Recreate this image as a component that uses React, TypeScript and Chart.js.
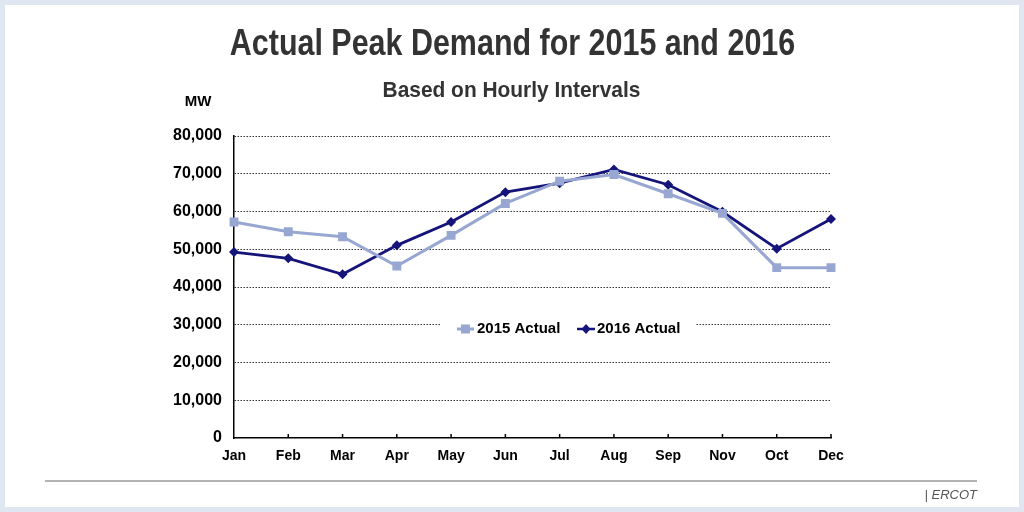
import React, { useEffect, useRef } from "react";
import { Chart, registerables } from "chart.js";

Chart.register(...registerables);

const months = ["Jan", "Feb", "Mar", "Apr", "May", "Jun", "Jul", "Aug", "Sep", "Nov", "Oct", "Dec"];
const actual2015 = [57200, 54650, 53330, 45560, 53680, 62140, 68040, 69810, 64710, 59500, 45130, 45130];
const actual2016 = [49260, 47590, 43360, 51030, 57200, 65130, 67510, 71140, 67090, 59940, 50160, 57990];
const yTicks = [0, 10000, 20000, 30000, 40000, 50000, 60000, 70000, 80000];
const seriesNames = ["2015 Actual", "2016 Actual"];

const titleText = "Actual Peak Demand for 2015 and 2016";
const subtitleText = "Based on Hourly Intervals";
const unitText = "MW";
const footerText = "| ERCOT";

const C2015 = "#97a7d1";
const C2016 = "#14147a";
const SANS = '"Liberation Sans", Arial, sans-serif';

const decorPlugin = {
  id: "decor",
  beforeDraw(chart: any) {
    const { ctx, width, height } = chart;
    ctx.save();
    ctx.fillStyle = "#dfe6ef";
    ctx.fillRect(0, 0, width, height);
    ctx.fillStyle = "#ffffff";
    ctx.fillRect(5, 5, width - 10, height - 10);
    ctx.restore();
  },
  afterDraw(chart: any) {
    const { ctx } = chart;
    const xs = chart.scales.x;
    const ys = chart.scales.y;
    ctx.save();
    ctx.fillStyle = "#333333";
    ctx.textAlign = "center";
    ctx.textBaseline = "alphabetic";
    ctx.save();
    ctx.translate(512.5, 55);
    ctx.scale(0.846, 1);
    ctx.font = `bold 36px ${SANS}`;
    ctx.fillText(titleText, 0, 0);
    ctx.restore();
    ctx.save();
    ctx.translate(511.5, 97);
    ctx.scale(0.95, 1);
    ctx.font = `bold 22px ${SANS}`;
    ctx.fillText(subtitleText, 0, 0);
    ctx.restore();
    ctx.fillStyle = "#000000";
    ctx.font = `bold 15px ${SANS}`;
    ctx.fillText(unitText, 198, 106);
    // inward ticks on x axis
    ctx.strokeStyle = "#000";
    ctx.lineWidth = 1.5;
    for (let i = 1; i < months.length; i++) {
      const px = xs.getPixelForValue(i);
      ctx.beginPath();
      ctx.moveTo(px, ys.bottom);
      ctx.lineTo(px, ys.bottom - 4);
      ctx.stroke();
    }
    // legend inside plot
    const ly = 329;
    ctx.fillStyle = "#fff";
    ctx.fillRect(440, ly - 11, 256, 22);
    ctx.font = `bold 15px ${SANS}`;
    ctx.textAlign = "left";
    ctx.textBaseline = "middle";
    ctx.strokeStyle = C2015;
    ctx.lineWidth = 3;
    ctx.beginPath();
    ctx.moveTo(457, ly);
    ctx.lineTo(474, ly);
    ctx.stroke();
    ctx.fillStyle = C2015;
    ctx.fillRect(461, ly - 4.5, 9, 9);
    ctx.fillStyle = "#000";
    ctx.fillText(seriesNames[0], 477, ly);
    ctx.strokeStyle = C2016;
    ctx.lineWidth = 2.5;
    ctx.beginPath();
    ctx.moveTo(577, ly);
    ctx.lineTo(595, ly);
    ctx.stroke();
    ctx.fillStyle = C2016;
    ctx.beginPath();
    ctx.moveTo(586, ly - 5);
    ctx.lineTo(590.5, ly);
    ctx.lineTo(586, ly + 5);
    ctx.lineTo(581.5, ly);
    ctx.closePath();
    ctx.fill();
    ctx.fillStyle = "#000";
    ctx.fillText(seriesNames[1], 597, ly);
    // footer
    ctx.strokeStyle = "#9a9a9a";
    ctx.lineWidth = 1.5;
    ctx.beginPath();
    ctx.moveTo(45, 481);
    ctx.lineTo(977, 481);
    ctx.stroke();
    ctx.fillStyle = "#555";
    ctx.font = `italic 13px ${SANS}`;
    ctx.textAlign = "right";
    ctx.fillText(footerText, 977, 495);
    ctx.restore();
  },
};

export default function App() {
  const ref = useRef<HTMLCanvasElement>(null);
  useEffect(() => {
    document.body.style.margin = "0";
    const chart = new Chart(ref.current!, {
      type: "line",
      data: {
        labels: months,
        datasets: [
          {
            label: seriesNames[0],
            data: actual2015,
            borderColor: C2015,
            backgroundColor: C2015,
            borderWidth: 3,
            pointStyle: "rect",
            pointRadius: 6.3,
            pointBorderWidth: 0,
            tension: 0,
          },
          {
            label: seriesNames[1],
            data: actual2016,
            borderColor: C2016,
            backgroundColor: C2016,
            borderWidth: 2.8,
            pointStyle: "rectRot",
            pointRadius: 5,
            pointBorderWidth: 0,
            tension: 0,
          },
        ],
      },
      options: {
        animation: false,
        responsive: false,
        devicePixelRatio: 1,
        layout: { padding: { left: 0, right: 193, top: 136, bottom: 0 } },
        plugins: { legend: { display: false }, tooltip: { enabled: false } },
        scales: {
          x: {
            offset: false,
            afterFit: (s: any) => { s.height = 74; },
            grid: { display: false, drawTicks: false },
            border: { display: true, color: "#000", width: 1.5 },
            ticks: { color: "#000", font: { family: SANS, size: 14, weight: "bold" }, padding: 10, maxRotation: 0, autoSkip: false },
          },
          y: {
            min: 0,
            max: 80000,
            afterFit: (s: any) => { s.width = 234; },
            afterBuildTicks: (s: any) => { s.ticks = yTicks.map((v) => ({ value: v })); },
            grid: {
              color: (c: any) => (c.tick && c.tick.value === 0 ? "rgba(0,0,0,0)" : "#333"),
              lineWidth: 1,
              drawTicks: false,
            },
            border: { display: true, color: "#000", width: 1.5, dash: [1.5, 1.5] },
            ticks: {
              color: "#000",
              font: { family: SANS, size: 16, weight: "bold" },
              padding: 12,
              callback: (v: any) => Number(v).toLocaleString("en-US"),
            },
          },
        },
      },
      plugins: [decorPlugin],
    } as any);
    return () => chart.destroy();
  }, []);
  return (
    <div style={{ width: 1024, height: 512 }}>
      <canvas ref={ref} width={1024} height={512} style={{ display: "block" }} />
    </div>
  );
}
